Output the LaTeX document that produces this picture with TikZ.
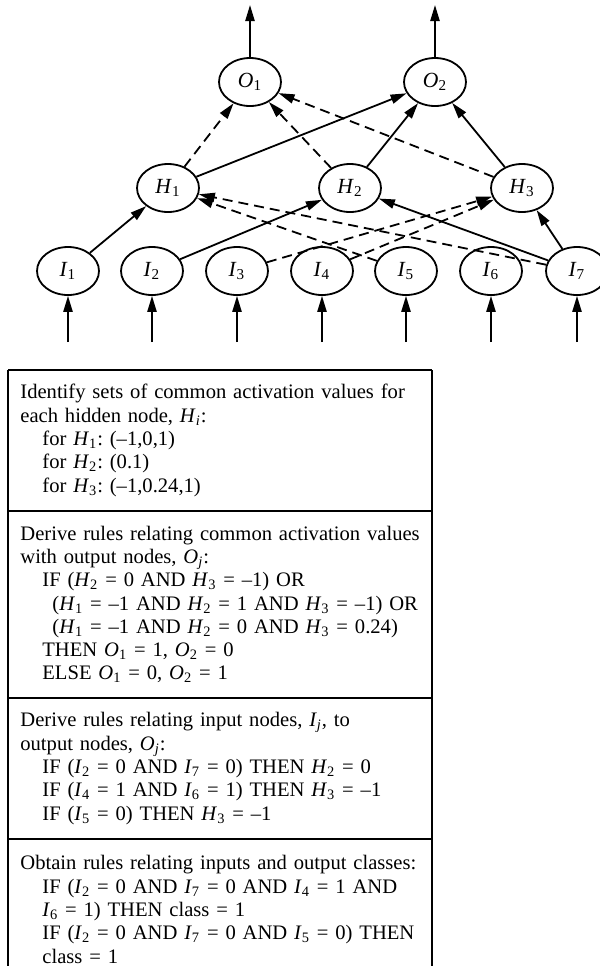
\documentclass[tikz,border=0pt]{standalone}
\usepackage{fontspec}
\setmainfont{Liberation Serif}
\usetikzlibrary{arrows.meta,positioning,shapes.geometric}

% italic variable with a subscript, set in the text font
\newcommand{\nv}[2]{\textit{#1}\textsubscript{#2}}

\begin{document}
\begin{tikzpicture}[
    x=0.5bp,y=-0.5bp,
    font=\fontsize{10.3bp}{11.65bp}\selectfont\frenchspacing,
    >={Triangle[length=8bp,width=4.6bp]},
    unit/.style={draw,ellipse,line width=0.9bp,minimum width=31bp,minimum height=24bp,inner sep=0pt,
                 font=\fontsize{10.8bp}{12bp}\selectfont},
    flow/.style={->,line width=0.9bp},
    weak/.style={flow,dash pattern=on 5bp off 3bp},
    sect/.style={anchor=north west,text width=205bp,inner xsep=6bp,inner ysep=0pt,
                 minimum height=70bp,align=left},
    rule/.style={line width=1.2bp},
]
\useasboundingbox (0,0) rectangle (600,966);

% ---- network: inputs, hidden, outputs ----
\node[unit] (i1) at (68,271)  {\nv{I}{1}};
\node[unit] (i2) at (152,271) {\nv{I}{2}};
\node[unit] (i3) at (237,271) {\nv{I}{3}};
\node[unit] (i4) at (322,271) {\nv{I}{4}};
\node[unit] (i5) at (406,271) {\nv{I}{5}};
\node[unit] (i6) at (491,271) {\nv{I}{6}};
\node[unit] (i7) at (577,271) {\nv{I}{7}};

\node[unit] (h1) at (168,188) {\nv{H}{1}};
\node[unit] (h2) at (350,188) {\nv{H}{2}};
\node[unit] (h3) at (522,188) {\nv{H}{3}};

\node[unit] (o1) at (250,82) {\nv{O}{1}};
\node[unit] (o2) at (435,82) {\nv{O}{2}};

% ---- free ends of the input and output arrows ----
\coordinate (in1) at (68,342);
\coordinate (in2) at (152,342);
\coordinate (in3) at (237,342);
\coordinate (in4) at (322,342);
\coordinate (in5) at (406,342);
\coordinate (in6) at (491,342);
\coordinate (in7) at (577,342);
\coordinate (out1) at (250,5);
\coordinate (out2) at (435,5);

\draw[flow] (in1) -- (i1);
\draw[flow] (in2) -- (i2);
\draw[flow] (in3) -- (i3);
\draw[flow] (in4) -- (i4);
\draw[flow] (in5) -- (i5);
\draw[flow] (in6) -- (i6);
\draw[flow] (in7) -- (i7);
\draw[flow] (o1) -- (out1);
\draw[flow] (o2) -- (out2);

% input -> hidden
\draw[flow] (i1) -- (h1);
\draw[flow] (i2) -- (h2);
\draw[flow] (i7) -- (h2);
\draw[flow] (i7) -- (h3);
\draw[weak] (i3) -- (h3);
\draw[weak] (i4) -- (h3);
\draw[weak] (i5) -- (h1);
\draw[weak] (i7) -- (h1);

% hidden -> output
\draw[flow] (h1) -- (o2);
\draw[flow] (h2) -- (o2);
\draw[flow] (h3) -- (o2);
\draw[weak] (h1) -- (o1);
\draw[weak] (h2) -- (o1);
\draw[weak] (h3) -- (o1);

% ---- rule extraction steps (box open at the bottom) ----
\node[sect] (s1) at (8,370)
  {Identify sets of common activation values for\\
   each hidden node, \nv{H}{\textit{i}}:\\
   \hspace*{11bp}for \nv{H}{1}: (\textendash1,0,1)\\
   \hspace*{11bp}for \nv{H}{2}: (0.1)\\
   \hspace*{11bp}for \nv{H}{3}: (\textendash1,0.24,1)};
\node[sect,below=0pt of s1,minimum height=93.3bp] (s2)
  {Derive rules relating common activation values\\
   with output nodes, \nv{O}{\textit{j}}:\\
   \hspace*{11bp}IF (\nv{H}{2} = 0 AND \nv{H}{3} = \textendash1) OR\\
   \hspace*{16bp}(\nv{H}{1} = \textendash1 AND \nv{H}{2} = 1 AND \nv{H}{3} = \textendash1) OR\\
   \hspace*{16bp}(\nv{H}{1} = \textendash1 AND \nv{H}{2} = 0 AND \nv{H}{3} = 0.24)\\
   \hspace*{11bp}THEN \nv{O}{1} = 1, \nv{O}{2} = 0\\
   \hspace*{11bp}ELSE \nv{O}{1} = 0, \nv{O}{2} = 1};
\node[sect,below=0pt of s2] (s3)
  {Derive rules relating input nodes, \nv{I}{\textit{j}}, to\\
   output nodes, \nv{O}{\textit{j}}:\\
   \hspace*{11bp}IF (\nv{I}{2} = 0 AND \nv{I}{7} = 0) THEN \nv{H}{2} = 0\\
   \hspace*{11bp}IF (\nv{I}{4} = 1 AND \nv{I}{6} = 1) THEN \nv{H}{3} = \textendash1\\
   \hspace*{11bp}IF (\nv{I}{5} = 0) THEN \nv{H}{3} = \textendash1};
\node[sect,below=0pt of s3] (s4)
  {Obtain rules relating inputs and output classes:\\
   \hspace*{11bp}IF (\nv{I}{2} = 0 AND \nv{I}{7} = 0 AND \nv{I}{4} = 1 AND\\
   \hspace*{11bp}\nv{I}{6} = 1) THEN class = 1\\
   \hspace*{11bp}IF (\nv{I}{2} = 0 AND \nv{I}{7} = 0 AND \nv{I}{5} = 0) THEN\\
   \hspace*{11bp}class = 1};

% ---- frame: right edge and open foot ----
\coordinate (edge) at (432,966);
\draw[rule] (s1.north west) -- (s1.north west -| edge);
\draw[rule] (s2.north west) -- (s2.north west -| edge);
\draw[rule] (s3.north west) -- (s3.north west -| edge);
\draw[rule] (s4.north west) -- (s4.north west -| edge);
\draw[rule] (s1.north west) -- (s1.north west |- edge);
\draw[rule] (s1.north west -| edge) -- (edge);

\end{tikzpicture}
\end{document}
